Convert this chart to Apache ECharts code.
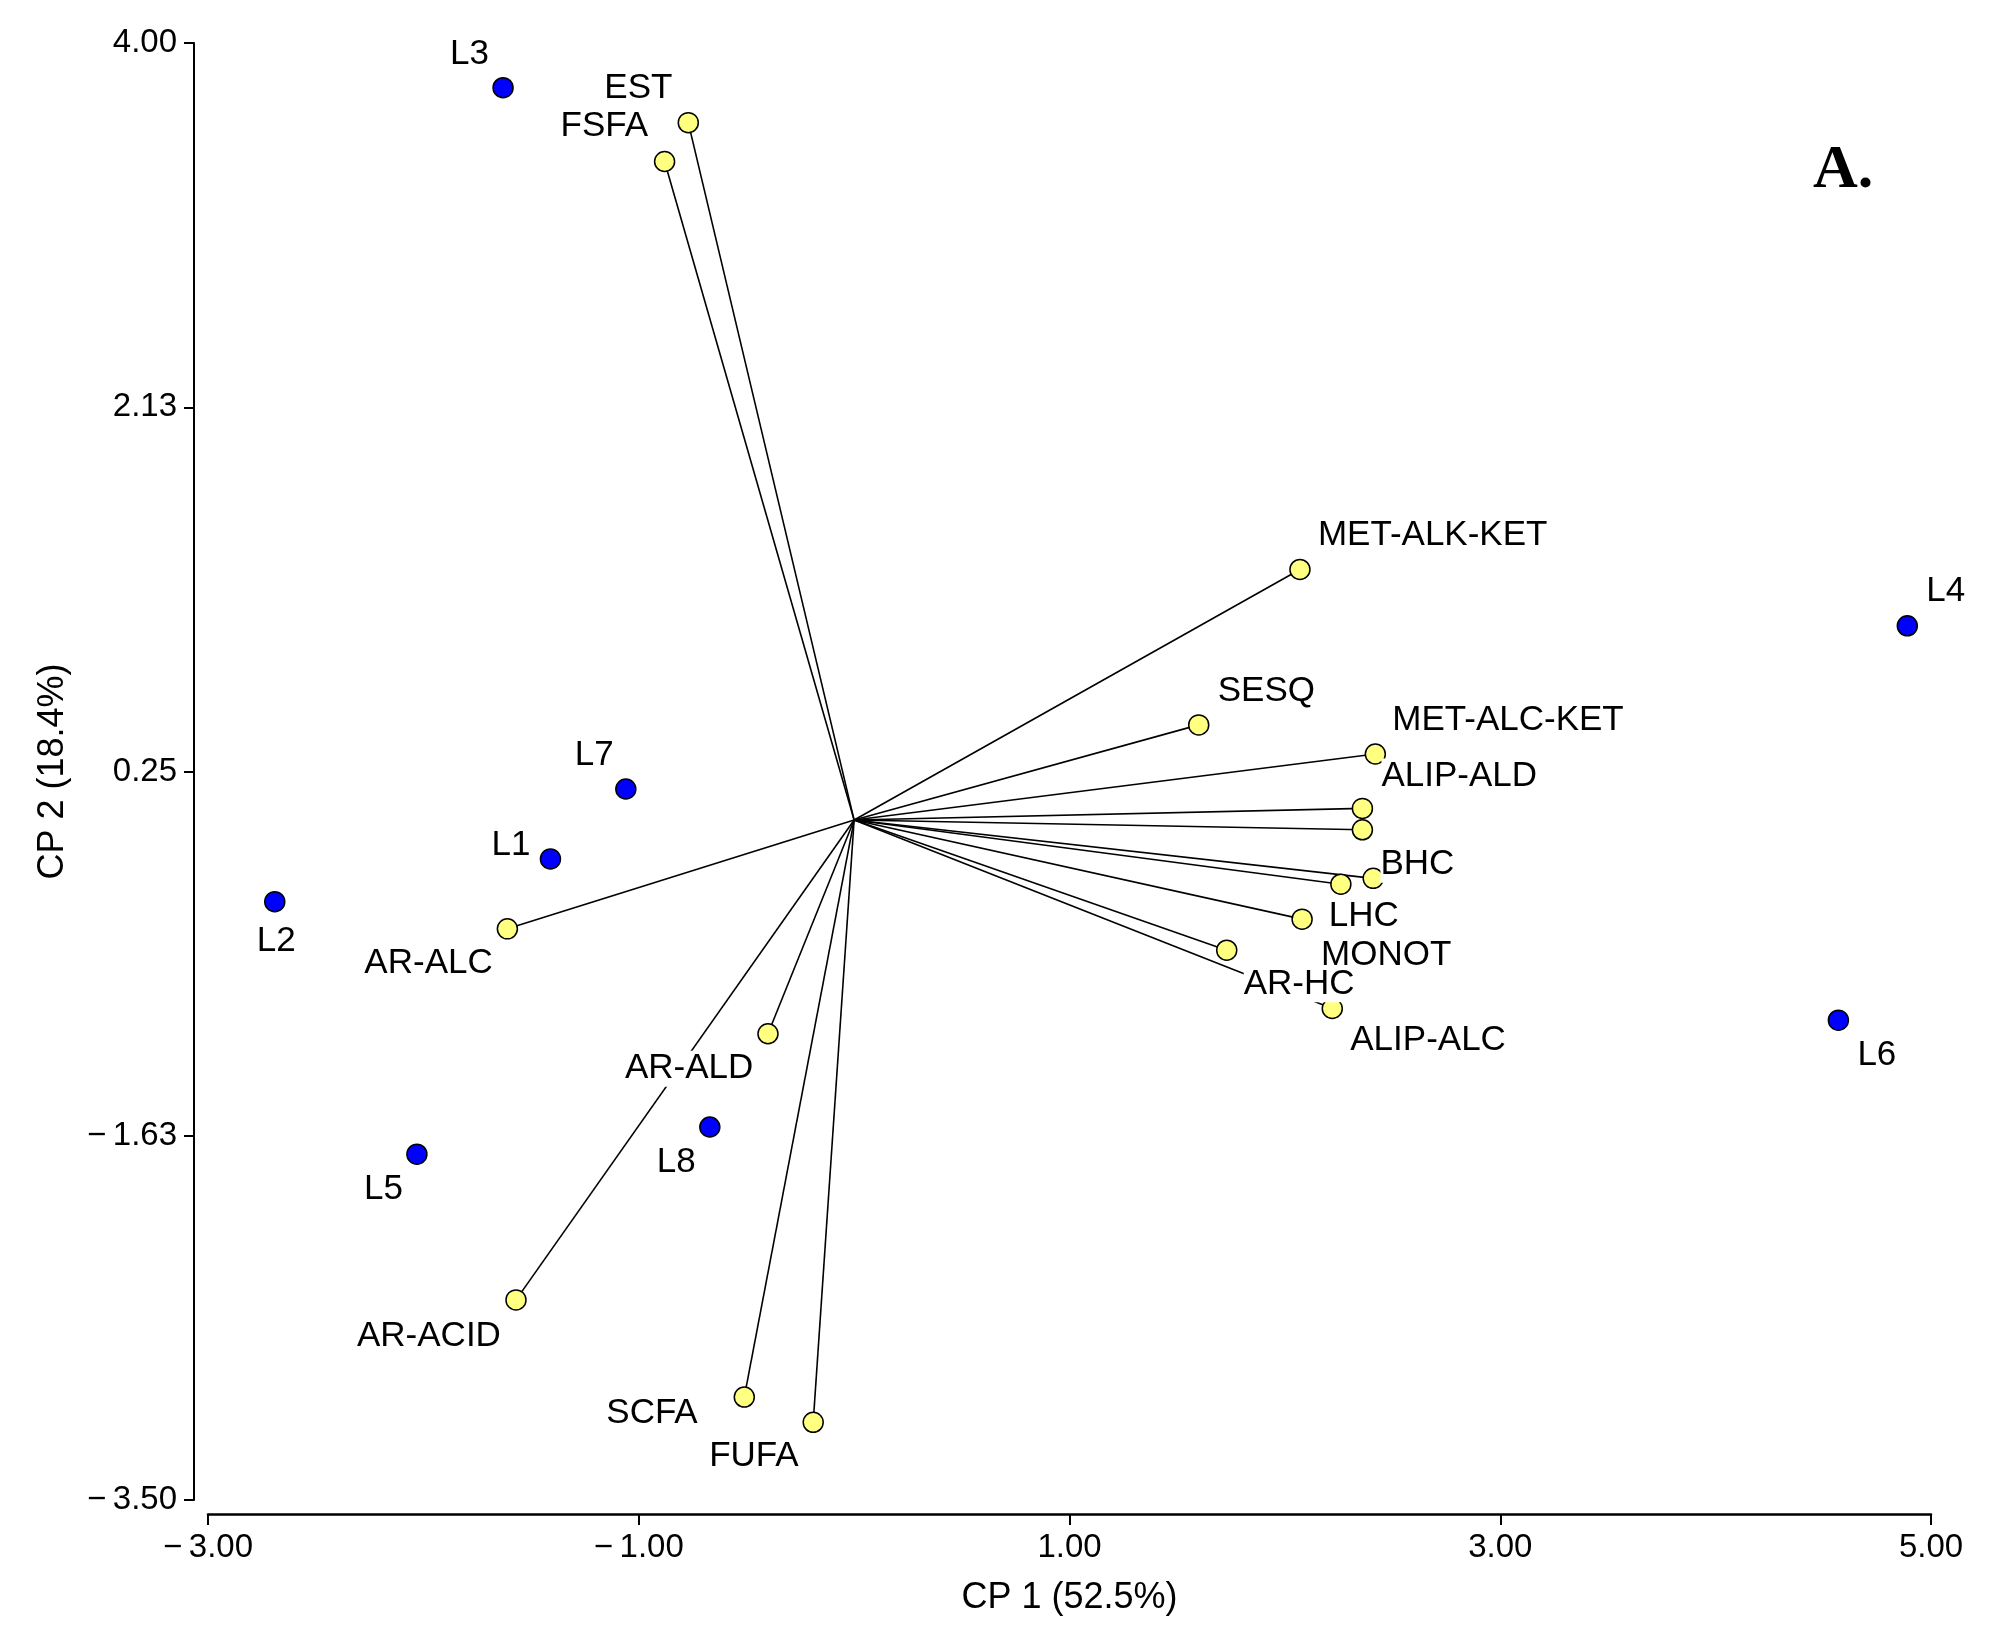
<!DOCTYPE html>
<html>
<head>
<meta charset="utf-8">
<title>CP 1 vs CP 2</title>
<script src="https://cdn.jsdelivr.net/npm/echarts@6/dist/echarts.min.js"></script>
<style>
html, body { margin: 0; padding: 0; background: #fff; }
#chart { width: 1990px; height: 1646px; }
</style>
</head>
<body>
<div id="chart"></div>
<script>
// samples (blue)
var sampleNames = ['L1', 'L2', 'L3', 'L4', 'L5', 'L6', 'L7', 'L8'];
var sampleX = [-1.41, -2.69, -1.63, 4.89, -2.03, 4.57, -1.06, -0.67];
var sampleY = [-0.20, -0.42, 3.77, 1.00, -1.72, -1.03, 0.16, -1.58];

// variables (yellow, drawn as vectors from the origin)
var varNames = ['EST', 'FSFA', 'MET-ALK-KET', 'SESQ', 'MET-ALC-KET', 'ALIP-ALD', 'BHC', '',
    'LHC', 'MONOT', 'AR-HC', 'ALIP-ALC', 'AR-ALC', 'AR-ALD', 'AR-ACID', 'SCFA', 'FUFA'];
var varX = [-0.77, -0.88, 2.07, 1.60, 2.42, 2.36, 2.36, 2.41,
    2.26, 2.08, 1.73, 2.22, -1.61, -0.40, -1.57, -0.51, -0.19];
var varY = [3.59, 3.39, 1.29, 0.49, 0.34, 0.06, -0.05, -0.30,
    -0.33, -0.51, -0.67, -0.97, -0.56, -1.10, -2.47, -2.97, -3.10];
var origin = [0, 0];

// axis ticks
var xTicks = [-3, -1, 1, 3, 5];
var xTickLabels = ['\u2212\u20093.00', '\u2212\u20091.00', '1.00', '3.00', '5.00'];
var yTicks = [-3.5, -1.625, 0.25, 2.125, 4];
var yTickLabels = ['\u2212\u20093.50', '\u2212\u20091.63', '0.25', '2.13', '4.00'];

// label placement (px, left edge / vertical middle relative to the point)
var sampleLabelOffset = [[-59, -14], [-18, 40], [-53, -33], [19, -34], [-53, 35], [19, 35], [-51, -34], [-53, 35]];
var varLabelOffset = [[-84, -34], [-104, -35], [18, -34], [19, -34], [17, -34], [19, -32], [18, 35], [0, 0],
    [-12, 32], [19, 36], [17, 34], [18, 32], [-143, 34], [-143, 35], [-159, 36], [-138, 16], [-104, 34]];

var FONT = '"Liberation Sans", Arial, sans-serif';

var sampleData = [];
for (var i = 0; i < sampleNames.length; i++) {
    sampleData.push({
        name: sampleNames[i],
        value: [sampleX[i], sampleY[i]],
        label: { offset: sampleLabelOffset[i] }
    });
}
var varData = [];
var vectorData = [];
for (var j = 0; j < varNames.length; j++) {
    varData.push({
        name: varNames[j],
        value: [varX[j], varY[j]],
        label: { show: varNames[j] !== '', offset: varLabelOffset[j] }
    });
    vectorData.push({ coords: [origin, [varX[j], varY[j]]] });
}

function tickFormatter(ticks, labels) {
    return function (v) {
        for (var k = 0; k < ticks.length; k++) {
            if (Math.abs(ticks[k] - v) < 1e-6) return labels[k];
        }
        return '';
    };
}

var pointLabel = {
    show: true,
    position: 'inside',
    formatter: '{b}',
    align: 'left',
    verticalAlign: 'middle',
    color: '#000',
    fontSize: 35,
    fontFamily: FONT,
    lineHeight: 36,
    backgroundColor: '#fff'
};

var myChart = echarts.init(document.getElementById('chart'));
var option = {
    animation: false,
    backgroundColor: '#fff',
    grid: { left: 208, right: 59, top: 43, bottom: 146 },
    xAxis: {
        type: 'value',
        min: -3,
        max: 5,
        offset: 14,
        name: 'CP 1 (52.5%)',
        nameLocation: 'middle',
        nameGap: 66,
        nameTextStyle: { color: '#000', fontSize: 36, fontFamily: FONT },
        axisLine: { onZero: false, lineStyle: { color: '#000', width: 2.5 } },
        axisTick: { customValues: xTicks, length: 11, lineStyle: { color: '#000', width: 2 } },
        axisLabel: {
            customValues: xTicks,
            formatter: tickFormatter(xTicks, xTickLabels),
            color: '#000', fontSize: 33, fontFamily: FONT, margin: 17
        },
        splitLine: { show: false }
    },
    yAxis: {
        type: 'value',
        min: -3.5,
        max: 4,
        offset: 14,
        name: 'CP 2 (18.4%)',
        nameLocation: 'middle',
        nameGap: 123,
        nameTextStyle: { color: '#000', fontSize: 36, fontFamily: FONT },
        axisLine: { onZero: false, lineStyle: { color: '#000', width: 2 } },
        axisTick: { customValues: yTicks, length: 10, lineStyle: { color: '#000', width: 2 } },
        axisLabel: {
            customValues: yTicks,
            formatter: tickFormatter(yTicks, yTickLabels),
            color: '#000', fontSize: 33, fontFamily: FONT, margin: 17
        },
        splitLine: { show: false }
    },
    graphic: [
        {
            type: 'text',
            left: 1813,
            top: 140,
            style: { text: 'A.', font: 'bold 62px "Liberation Serif", "Times New Roman", serif', fill: '#000' }
        }
    ],
    series: [
        {
            type: 'lines',
            coordinateSystem: 'cartesian2d',
            silent: true,
            z: 1,
            symbol: 'none',
            lineStyle: { color: '#000', width: 1.6, opacity: 1, curveness: 0 },
            data: vectorData
        },
        {
            name: 'variables',
            type: 'scatter',
            z: 2,
            symbol: 'circle',
            symbolSize: 20,
            itemStyle: { color: '#ffff80', borderColor: '#000', borderWidth: 1.5, opacity: 1 },
            label: pointLabel,
            data: varData
        },
        {
            name: 'samples',
            type: 'scatter',
            z: 3,
            symbol: 'circle',
            symbolSize: 20,
            itemStyle: { color: '#0000ff', borderColor: '#000', borderWidth: 1.5, opacity: 1 },
            label: pointLabel,
            data: sampleData
        }
    ]
};
myChart.setOption(option);
</script>
</body>
</html>
